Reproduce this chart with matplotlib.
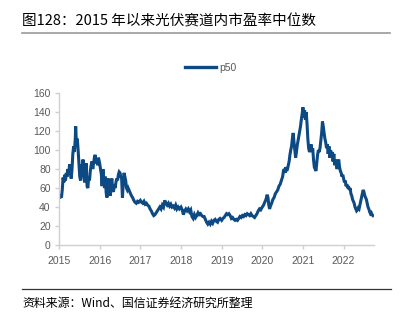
import matplotlib
matplotlib.use('Agg')
import matplotlib.pyplot as plt
from matplotlib.lines import Line2D

plt.rcParams['font.family'] = ['Noto Sans CJK SC', 'DejaVu Sans']

# P/E median of the PV sector, sampled roughly every week or two (decimal years)
years = [
    2015.00, 2015.02, 2015.04, 2015.06, 2015.08, 2015.10, 2015.12, 2015.14, 2015.16, 2015.18,
    2015.20, 2015.22, 2015.24, 2015.26, 2015.28, 2015.30, 2015.32, 2015.34, 2015.36, 2015.38,
    2015.40, 2015.41, 2015.43, 2015.45, 2015.47, 2015.49, 2015.51, 2015.53, 2015.55, 2015.57,
    2015.59, 2015.61, 2015.63, 2015.65, 2015.67, 2015.69, 2015.71, 2015.73, 2015.75, 2015.77,
    2015.79, 2015.81, 2015.83, 2015.85, 2015.87, 2015.89, 2015.91, 2015.93, 2015.95, 2015.97,
    2016.00, 2016.02, 2016.04, 2016.06, 2016.08, 2016.10, 2016.12, 2016.14, 2016.16, 2016.18,
    2016.20, 2016.22, 2016.24, 2016.26, 2016.28, 2016.30, 2016.32, 2016.34, 2016.36, 2016.38,
    2016.40, 2016.42, 2016.44, 2016.46, 2016.48, 2016.50, 2016.52, 2016.54, 2016.56, 2016.58,
    2016.60, 2016.62, 2016.64, 2016.66, 2016.68, 2016.70, 2016.72, 2016.75, 2016.78, 2016.81,
    2016.84, 2016.87, 2016.90, 2016.93, 2016.96, 2017.00, 2017.03, 2017.06, 2017.09, 2017.12,
    2017.15, 2017.18, 2017.21, 2017.24, 2017.27, 2017.30, 2017.33, 2017.36, 2017.39, 2017.42,
    2017.45, 2017.48, 2017.51, 2017.54, 2017.57, 2017.60, 2017.63, 2017.66, 2017.69, 2017.72,
    2017.75, 2017.78, 2017.81, 2017.84, 2017.87, 2017.90, 2017.93, 2017.96, 2018.00, 2018.03,
    2018.06, 2018.09, 2018.12, 2018.15, 2018.18, 2018.21, 2018.24, 2018.27, 2018.30, 2018.33,
    2018.36, 2018.39, 2018.42, 2018.45, 2018.48, 2018.51, 2018.54, 2018.57, 2018.60, 2018.63,
    2018.66, 2018.69, 2018.72, 2018.75, 2018.78, 2018.81, 2018.84, 2018.87, 2018.90, 2018.93,
    2018.96, 2019.00, 2019.03, 2019.06, 2019.09, 2019.12, 2019.15, 2019.18, 2019.21, 2019.24,
    2019.27, 2019.30, 2019.33, 2019.36, 2019.39, 2019.42, 2019.45, 2019.48, 2019.51, 2019.54,
    2019.57, 2019.60, 2019.63, 2019.66, 2019.69, 2019.72, 2019.75, 2019.78, 2019.81, 2019.84,
    2019.87, 2019.90, 2019.93, 2019.96, 2020.00, 2020.03, 2020.06, 2020.09, 2020.12, 2020.14,
    2020.16, 2020.18, 2020.20, 2020.23, 2020.26, 2020.29, 2020.32, 2020.35, 2020.38, 2020.41,
    2020.44, 2020.47, 2020.50, 2020.52, 2020.54, 2020.56, 2020.58, 2020.60, 2020.62, 2020.64,
    2020.66, 2020.68, 2020.70, 2020.72, 2020.74, 2020.76, 2020.78, 2020.80, 2020.82, 2020.84,
    2020.86, 2020.88, 2020.90, 2020.92, 2020.94, 2020.96, 2020.98, 2021.00, 2021.02, 2021.04,
    2021.06, 2021.08, 2021.10, 2021.12, 2021.14, 2021.16, 2021.18, 2021.20, 2021.22, 2021.24,
    2021.26, 2021.28, 2021.30, 2021.32, 2021.34, 2021.36, 2021.38, 2021.40, 2021.42, 2021.44,
    2021.46, 2021.48, 2021.50, 2021.52, 2021.54, 2021.56, 2021.58, 2021.60, 2021.62, 2021.64,
    2021.66, 2021.68, 2021.70, 2021.72, 2021.74, 2021.76, 2021.78, 2021.80, 2021.82, 2021.84,
    2021.86, 2021.88, 2021.90, 2021.92, 2021.94, 2021.96, 2021.98, 2022.00, 2022.02, 2022.04,
    2022.06, 2022.08, 2022.10, 2022.12, 2022.14, 2022.16, 2022.18, 2022.20, 2022.22, 2022.24,
    2022.26, 2022.28, 2022.30, 2022.32, 2022.34, 2022.36, 2022.38, 2022.40, 2022.42, 2022.44,
    2022.46, 2022.48, 2022.50, 2022.52, 2022.54, 2022.56, 2022.58, 2022.60, 2022.62, 2022.64,
    2022.66, 2022.68, 2022.70, 2022.72,
]
p50 = [
    51, 49, 53, 50, 58, 71, 66, 74, 68, 76,
    72, 80, 74, 85, 76, 70, 80, 96, 104, 98,
    112, 125, 105, 112, 100, 85, 72, 68, 85, 78,
    90, 72, 66, 78, 86, 62, 60, 72, 68, 78,
    84, 88, 80, 86, 92, 95, 86, 90, 84, 92,
    86, 80, 75, 62, 80, 70, 60, 72, 55, 50,
    66, 70, 62, 52, 64, 70, 58, 56, 64, 60,
    66, 70, 68, 74, 77, 76, 72, 70, 50, 65,
    76, 72, 68, 60, 58, 60, 58, 55, 52, 50,
    47, 45, 44, 46, 45, 47, 45, 44, 46, 43,
    44, 42, 41, 38, 36, 33, 31, 32, 34, 36,
    38, 40, 38, 42, 40, 47, 44, 42, 44, 41,
    43, 40, 41, 39, 42, 38, 40, 38, 40, 37,
    32, 36, 38, 36, 38, 35, 37, 30, 28, 32,
    29, 31, 34, 32, 33, 31, 30, 30, 27, 24,
    22, 24, 22, 25, 23, 26, 27, 25, 24, 27,
    28, 26, 28, 29, 31, 33, 32, 33, 31, 28,
    29, 27, 26, 27, 26, 28, 30, 29, 31, 30,
    32, 31, 33, 32, 31, 33, 31, 30, 29, 31,
    33, 36, 38, 37, 40, 42, 45, 48, 53, 50,
    42, 38, 41, 44, 48, 50, 54, 56, 58, 62,
    64, 68, 72, 78, 80, 76, 82, 78, 80, 84,
    88, 95, 100, 104, 112, 118, 108, 100, 92, 98,
    105, 110, 115, 120, 125, 132, 138, 145, 134, 142,
    132, 140, 128, 112, 102, 98, 100, 106, 98, 102,
    90, 82, 80, 78, 86, 95, 100, 98, 102, 110,
    118, 130, 125, 118, 112, 108, 102, 106, 96, 104,
    92, 100, 94, 98, 88, 96, 84, 90, 85, 80,
    86, 90, 82, 78, 76, 72, 74, 70, 66, 68,
    62, 64, 60, 62, 58, 60, 54, 52, 48, 46,
    44, 40, 38, 36, 37, 39, 38, 42, 46, 50,
    54, 58, 56, 52, 50, 48, 44, 40, 38, 35,
    33, 34, 32, 31,
]
year_ticks = [2015, 2016, 2017, 2018, 2019, 2020, 2021, 2022]
y_ticks = [0, 20, 40, 60, 80, 100, 120, 140, 160]

title = '图128：2015 年以来光伏赛道内市盈率中位数'
source = '资料来源：Wind、国信证券经济研究所整理'

line_color = '#0d4a83'
axis_color = '#d0d0d0'
label_color = '#595959'

fig = plt.figure(figsize=(4.05, 3.22), dpi=100)
ax = fig.add_axes([0.1457, 0.239, 0.778, 0.472])

ax.plot(years, p50, color=line_color, lw=2.2, solid_joinstyle='miter')

ax.set_xlim(2015, 2022.75)
ax.set_ylim(0, 160)
ax.set_xticks(year_ticks)
ax.set_xticklabels([str(y) for y in year_ticks])
ax.set_yticks(y_ticks)

for side in ['top', 'right']:
    ax.spines[side].set_visible(False)
for side in ['left', 'bottom']:
    ax.spines[side].set_color(axis_color)
    ax.spines[side].set_linewidth(1.0)
ax.tick_params(axis='both', colors=axis_color, length=3, width=1.0,
               labelcolor=label_color, labelsize=7.5)
ax.tick_params(axis='y', pad=3)
ax.tick_params(axis='x', pad=5)
for lab in ax.get_xticklabels() + ax.get_yticklabels():
    lab.set_family(['Liberation Sans', 'DejaVu Sans'])

# legend above the plot area
handle = Line2D([], [], color=line_color, lw=2.4)
fig.legend([handle], ['p50'], loc='center', bbox_to_anchor=(0.52, 0.789),
           frameon=False, handlelength=3.0, handletextpad=0.3,
           prop={'family': ['Liberation Sans', 'DejaVu Sans'], 'size': 7.5},
           labelcolor=label_color)

# header and footer
fig.text(22 / 405, 1 - 21 / 322, title, fontsize=10.5, va='center', ha='left')
fig.add_artist(Line2D([22 / 405, 390 / 405], [1 - 33 / 322, 1 - 33 / 322],
                      color='#9a9a9a', lw=1.2))
fig.add_artist(Line2D([22 / 405, 391 / 405], [1 - 289 / 322, 1 - 289 / 322],
                      color='#333333', lw=0.9))
fig.text(22 / 405, 1 - 303 / 322, source, fontsize=8.6, va='center', ha='left')

fig.savefig('out.png', dpi=100)
